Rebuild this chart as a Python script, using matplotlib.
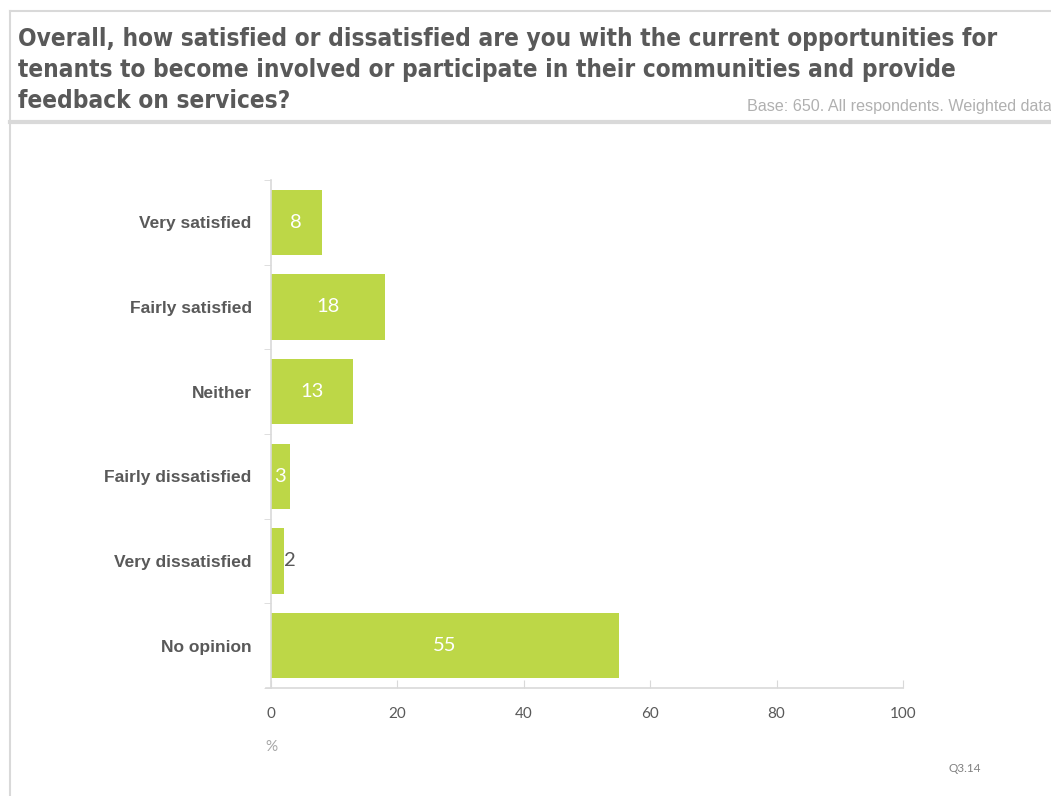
import matplotlib.pyplot as plt
from matplotlib.lines import Line2D
import numpy as np

categories = ["Very satisfied", "Fairly satisfied", "Neither",
              "Fairly dissatisfied", "Very dissatisfied", "No opinion"]
values = [8, 18, 13, 3, 2, 55]
x_ticks = [0, 20, 40, 60, 80, 100]

title_lines = ["Overall, how satisfied or dissatisfied are you with the current opportunities for",
               "tenants to become involved or participate in their communities and provide",
               "feedback on services?"]
base_note = "Base: 650. All respondents. Weighted data"

bar_color = '#bdd747'
grey = '#595959'
line_grey = '#d9d9d9'

W, H = 1051, 796
fig = plt.figure(figsize=(W / 100, H / 100), dpi=100)
fig.patch.set_facecolor('white')

# frame lines of the slide ----------------------------------
fig.add_artist(Line2D([10 / W, 10 / W], [0, 1 - 11 / H], color=line_grey, lw=1.5))
fig.add_artist(Line2D([10 / W, 1], [1 - 11 / H, 1 - 11 / H], color=line_grey, lw=1.5))
fig.add_artist(Line2D([10 / W, 1], [1 - 122 / H, 1 - 122 / H], color=line_grey, lw=3))

# header texts ------------------------------------------------
for i, line in enumerate(title_lines):
    fig.text(18 / W, 1 - (39 + 31 * i) / H, line, ha='left', va='center',
             fontsize=17.5, fontweight='bold', fontstretch='condensed',
             color=grey, family='DejaVu Sans')
fig.text(747 / W, 1 - 107 / H, base_note, ha='left', va='center', fontsize=11.6,
         color='#b0b0b0', family='Liberation Sans')

# chart --------------------------------------------------------
ax = fig.add_axes([271 / W, (H - 688) / H, (903 - 271) / W, (688 - 180) / H])
y = np.arange(len(categories))
ax.barh(y, values, height=0.77, color=bar_color)

for yi, v in zip(y, values):
    if v >= 3:
        ax.text(v / 2, yi, str(v), ha='center', va='center', color='white',
                fontsize=14.5, family='Lato')
    else:
        ax.text(v, yi, str(v), ha='left', va='center', color=grey,
                fontsize=14.5, family='Lato')

ax.set_xlim(0, 100)
ax.set_ylim(len(categories) - 0.5, -0.5)
ax.set_yticks(y)
ax.set_yticklabels(categories, fontsize=12.5, fontweight='bold', color=grey,
                   family='Liberation Sans')
ax.tick_params(axis='y', which='major', length=0, pad=14)
ax.set_yticks(np.arange(-0.5, len(categories), 1), minor=True)
ax.tick_params(axis='y', which='minor', length=5, color=line_grey, direction='out')

ax.set_xticks(x_ticks)
ax.set_xticklabels([str(t) for t in x_ticks], fontsize=11, color=grey, family='Lato')
ax.tick_params(axis='x', length=6, direction='in', color=line_grey, pad=14)

for side in ['top', 'right']:
    ax.spines[side].set_visible(False)
for side in ['left', 'bottom']:
    ax.spines[side].set_color(line_grey)
    ax.spines[side].set_linewidth(1.2)
ax.add_line(Line2D([-0.008, 0], [0, 0], transform=ax.transAxes, color=line_grey,
                   lw=1.2, clip_on=False))

fig.text(271 / W, 1 - 747 / H, "%", ha='center', va='center', fontsize=11,
         color='#a6a6a6', family='Lato')
fig.text(965 / W, 1 - 768 / H, "Q3.14", ha='center', va='center', fontsize=8.5,
         color='#808080', family='Lato')

fig.savefig('out.png', dpi=100)
